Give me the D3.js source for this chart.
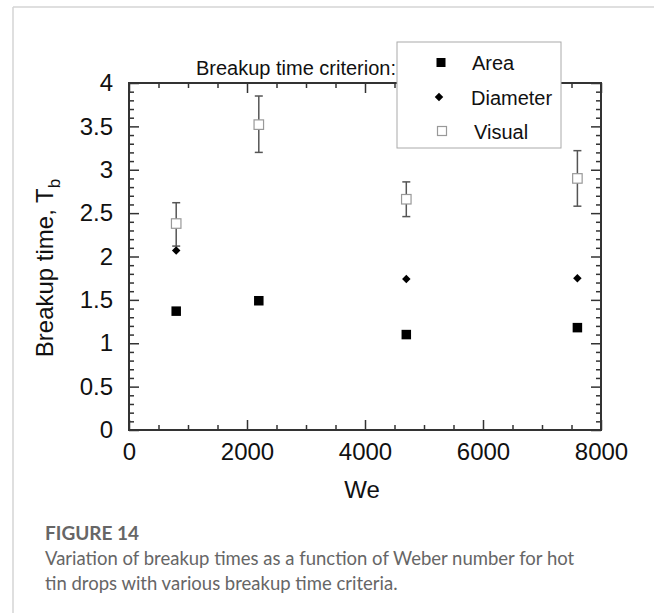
<!DOCTYPE html>
<html>
<head>
<meta charset="utf-8">
<script src="https://cdn.jsdelivr.net/npm/d3@7/dist/d3.min.js"></script>
<style>
  html, body { margin: 0; padding: 0; background: #fff; }
  svg { display: block; }
</style>
</head>
<body>
<svg id="chart" width="654" height="613"></svg>
<script>
// Weber numbers of the four hot-tin test cases
const weAll = [800, 2200, 4700, 7600];
// Breakup time from the area criterion
const areaT = [1.37, 1.49, 1.10, 1.18];
// Breakup time from the diameter criterion (not available at We = 2200)
const diamWe = [800, 4700, 7600];
const diamT = [2.07, 1.74, 1.75];
// Visually determined breakup time with its spread
const visualT = [2.38, 3.52, 2.66, 2.90];
const visualLo = [2.12, 3.20, 2.46, 2.58];
const visualHi = [2.62, 3.85, 2.86, 3.22];

const xTicks = [0, 2000, 4000, 6000, 8000];
const yTicks = [0, 0.5, 1, 1.5, 2, 2.5, 3, 3.5, 4];
const legendLabels = ["Area", "Diameter", "Visual"];

const svg = d3.select("#chart");
const chartFont = "'Liberation Sans', Arial, sans-serif";
const captionFont = "Lato, 'Open Sans', sans-serif";

// frame lines of the figure panel
svg.append("line").attr("x1", 13).attr("x2", 654).attr("y1", 7).attr("y2", 7)
  .attr("stroke", "#d4d4d4").attr("stroke-width", 1.5);
svg.append("line").attr("x1", 13).attr("x2", 13).attr("y1", 7).attr("y2", 613)
  .attr("stroke", "#d4d4d4").attr("stroke-width", 1.5);

const L = 129, R = 601, T = 83, B = 430;
const x = d3.scaleLinear().domain([0, 8000]).range([L, R]);
const y = d3.scaleLinear().domain([0, 4]).range([B, T]);

const axisColor = "#333";
const g = svg.append("g");

// minor ticks
const xMinor = d3.range(0, 8001, 500).filter(v => v % 2000 !== 0);
const yMinor = d3.range(0, 41, 1).map(v => v / 10).filter(v => Math.round(v * 10) % 5 !== 0);

function styleAxis(sel) {
  sel.select(".domain").remove();
  sel.selectAll(".tick line").attr("stroke", axisColor).attr("stroke-width", 1.5);
  sel.selectAll(".tick text").attr("fill", "#111").attr("font-family", chartFont).attr("font-size", 24);
}

// bottom axis (labels)
g.append("g").attr("transform", `translate(0,${B})`)
  .call(d3.axisBottom(x).tickValues(xTicks).tickSize(-10).tickPadding(13).tickFormat(d3.format("d")))
  .call(styleAxis);
g.append("g").attr("transform", `translate(0,${B})`)
  .call(d3.axisBottom(x).tickValues(xMinor).tickSize(-5).tickFormat(""))
  .call(styleAxis);
// top axis
g.append("g").attr("transform", `translate(0,${T})`)
  .call(d3.axisTop(x).tickValues(xTicks).tickSize(-10).tickFormat(""))
  .call(styleAxis);
g.append("g").attr("transform", `translate(0,${T})`)
  .call(d3.axisTop(x).tickValues(xMinor).tickSize(-5).tickFormat(""))
  .call(styleAxis);
// left axis (labels)
g.append("g").attr("transform", `translate(${L},0)`)
  .call(d3.axisLeft(y).tickValues(yTicks).tickSize(-10).tickPadding(16).tickFormat(d3.format("")))
  .call(styleAxis);
g.append("g").attr("transform", `translate(${L},0)`)
  .call(d3.axisLeft(y).tickValues(yMinor).tickSize(-5).tickFormat(""))
  .call(styleAxis);
// right axis
g.append("g").attr("transform", `translate(${R},0)`)
  .call(d3.axisRight(y).tickValues(yTicks).tickSize(-10).tickFormat(""))
  .call(styleAxis);
g.append("g").attr("transform", `translate(${R},0)`)
  .call(d3.axisRight(y).tickValues(yMinor).tickSize(-5).tickFormat(""))
  .call(styleAxis);

// plot frame
g.append("rect").attr("x", L).attr("y", T).attr("width", R - L).attr("height", B - T)
  .attr("fill", "none").attr("stroke", axisColor).attr("stroke-width", 2);

// axis titles
g.append("text").attr("x", 362).attr("y", 498).attr("text-anchor", "middle")
  .attr("font-family", chartFont).attr("font-size", 24).attr("fill", "#111").text("We");
const yt = g.append("text").attr("transform", "translate(53,268) rotate(-90)")
  .attr("text-anchor", "middle").attr("font-family", chartFont).attr("font-size", 24).attr("fill", "#111");
yt.append("tspan").text("Breakup time, T");
yt.append("tspan").attr("font-size", 17).attr("dy", 7).text("b");

// error bars for the visual criterion
const errColor = "#555";
const eb = g.append("g").attr("stroke", errColor).attr("stroke-width", 1.5);
weAll.forEach((w, i) => {
  eb.append("line").attr("x1", x(w)).attr("x2", x(w)).attr("y1", y(visualLo[i])).attr("y2", y(visualHi[i]));
  eb.append("line").attr("x1", x(w) - 4).attr("x2", x(w) + 4).attr("y1", y(visualLo[i])).attr("y2", y(visualLo[i]));
  eb.append("line").attr("x1", x(w) - 4).attr("x2", x(w) + 4).attr("y1", y(visualHi[i])).attr("y2", y(visualHi[i]));
});

const sq = 9.5, osq = 9.5;
// visual criterion: open squares
g.selectAll(".vis").data(weAll).join("rect")
  .attr("x", (d) => x(d) - osq / 2).attr("y", (d, i) => y(visualT[i]) - osq / 2)
  .attr("width", osq).attr("height", osq)
  .attr("fill", "#fff").attr("stroke", "#999").attr("stroke-width", 1.2);
// diameter criterion: filled diamonds
const diamond = d3.symbol().type(d3.symbolDiamond2).size(46);
g.selectAll(".dia").data(diamWe).join("path")
  .attr("transform", (d, i) => `translate(${x(d)},${y(diamT[i])})`)
  .attr("d", diamond).attr("fill", "#000");
// area criterion: filled squares
g.selectAll(".area").data(weAll).join("rect")
  .attr("x", (d) => x(d) - sq / 2).attr("y", (d, i) => y(areaT[i]) - sq / 2)
  .attr("width", sq).attr("height", sq).attr("fill", "#000");

// legend title
g.append("text").attr("x", 396).attr("y", 75).attr("text-anchor", "end")
  .attr("font-family", chartFont).attr("font-size", 20).attr("fill", "#111").text("Breakup time criterion:");

// legend box
const lg = g.append("g");
lg.append("rect").attr("x", 397).attr("y", 42).attr("width", 164).attr("height", 106)
  .attr("fill", "#fff").attr("stroke", "#aaa").attr("stroke-width", 1);
const rowsY = [62.5, 97, 131];
const markX = [441, 439, 442];
const textX = [472, 471, 474];
lg.append("rect").attr("x", markX[0] - 4.5).attr("y", rowsY[0] - 4.5).attr("width", 9).attr("height", 9).attr("fill", "#000");
lg.append("path").attr("transform", `translate(${markX[1]},${rowsY[1]})`).attr("d", diamond).attr("fill", "#000");
lg.append("rect").attr("x", markX[2] - 4.5).attr("y", rowsY[2] - 4.5).attr("width", 9).attr("height", 9)
  .attr("fill", "#fff").attr("stroke", "#999").attr("stroke-width", 1.2);
lg.selectAll(".lt").data(legendLabels).join("text")
  .attr("x", (d, i) => textX[i]).attr("y", (d, i) => rowsY[i] + 7.5)
  .attr("font-family", chartFont).attr("font-size", 20).attr("fill", "#111").text(d => d);

// caption
svg.append("text").attr("x", 45).attr("y", 540).attr("font-family", captionFont)
  .attr("font-weight", 700).attr("font-size", 19).attr("fill", "#666").text("FIGURE 14");
svg.append("text").attr("x", 45).attr("y", 565).attr("font-family", captionFont)
  .attr("font-size", 18.5).attr("fill", "#666")
  .text("Variation of breakup times as a function of Weber number for hot");
svg.append("text").attr("x", 45).attr("y", 590).attr("font-family", captionFont)
  .attr("font-size", 18.5).attr("fill", "#666")
  .text("tin drops with various breakup time criteria.");
</script>
</body>
</html>
